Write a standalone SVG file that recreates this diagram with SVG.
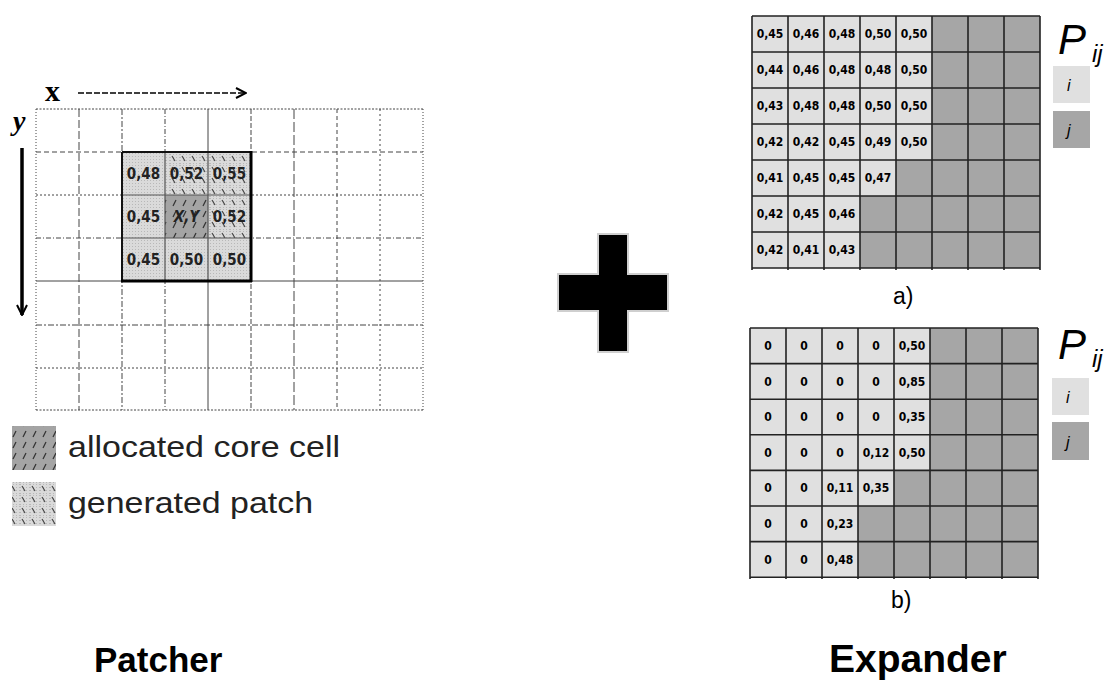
<svg xmlns="http://www.w3.org/2000/svg" width="1117" height="680" viewBox="0 0 1117 680">
<defs>
  <pattern id="stip" patternUnits="userSpaceOnUse" width="3" height="3">
    <rect width="3" height="3" fill="#dadada"/>
    <rect x="0" y="0" width="1" height="1" fill="#b8b8b8"/>
  </pattern>
  <pattern id="hatchB" patternUnits="userSpaceOnUse" width="10" height="11">
    <rect width="10" height="11" fill="url(#stip)"/>
    <line x1="2" y1="2" x2="5" y2="7" stroke="#444" stroke-width="1.2"/>
  </pattern>
  <pattern id="hatchF" patternUnits="userSpaceOnUse" width="10" height="11">
    <rect width="10" height="11" fill="#a4a4a4"/>
    <line x1="6" y1="2" x2="3" y2="8" stroke="#333" stroke-width="1.3"/>
  </pattern>
  <marker id="chev" viewBox="0 0 12 12" refX="11" refY="6" markerWidth="12" markerHeight="12" markerUnits="userSpaceOnUse" orient="auto">
    <path d="M1,1 L11,6 L1,11" fill="none" stroke="#000" stroke-width="2"/>
  </marker>
  <style>
    .g{fill:none;stroke:#444;stroke-width:1}
    .pv{font-family:"DejaVu Sans Condensed","Liberation Sans Narrow",sans-serif;font-size:15px;font-weight:bold;fill:#222;text-anchor:middle}
    .tv{font-family:"DejaVu Sans Condensed","Liberation Sans Narrow",sans-serif;font-size:12px;font-weight:bold;fill:#000;text-anchor:middle}
    .tl{fill:#000;stroke:#222;stroke-width:1.6}
    .lt{fill:#e0e0e0}
    .dk{fill:#a6a6a6}
    .leg{font-family:"Liberation Sans",Arial,sans-serif;font-size:29px;fill:#222}
    .ttl{font-family:"Liberation Sans",Arial,sans-serif;font-weight:bold;fill:#000}
    .lab{font-family:"Liberation Sans",Arial,sans-serif;font-size:23px;fill:#000}
    .P{font-family:"Liberation Sans",Arial,sans-serif;font-style:italic;fill:#000}
  </style>
</defs>

<g id="patcher-grid">
  <rect x="36" y="109" width="387" height="301" fill="#fff"/>
  <line class="g" x1="36" y1="109" x2="36" y2="410" stroke-dasharray="1,2" stroke="#777"/>
  <line class="g" x1="79" y1="109" x2="79" y2="410" stroke-dasharray="8,3"/>
  <line class="g" x1="122" y1="109" x2="122" y2="410" stroke-dasharray="6,2,2,2"/>
  <line class="g" x1="165" y1="109" x2="165" y2="410" stroke-dasharray="5,2,1,2"/>
  <line class="g" x1="208" y1="109" x2="208" y2="410" stroke="#555"/>
  <line class="g" x1="251" y1="109" x2="251" y2="410" stroke-dasharray="5,2" stroke-width="1.5"/>
  <line class="g" x1="294" y1="109" x2="294" y2="410" stroke-dasharray="10,3" stroke-width="1.5"/>
  <line class="g" x1="337" y1="109" x2="337" y2="410" stroke-dasharray="4,3"/>
  <line class="g" x1="380" y1="109" x2="380" y2="410" stroke-dasharray="2,3"/>
  <line class="g" x1="423" y1="109" x2="423" y2="410" stroke-dasharray="1,2"/>
  <line class="g" x1="36" y1="109" x2="423" y2="109" stroke-dasharray="2,1.5" stroke-width="1.3"/>
  <line class="g" x1="36" y1="152" x2="423" y2="152" stroke-dasharray="5,3"/>
  <line class="g" x1="36" y1="195" x2="423" y2="195" stroke-dasharray="2,2" stroke-width="1.6" stroke="#111"/>
  <line class="g" x1="36" y1="238" x2="423" y2="238" stroke-dasharray="5,2,1,2" stroke="#777"/>
  <line class="g" x1="36" y1="281" x2="423" y2="281" stroke="#333"/>
  <line class="g" x1="36" y1="325" x2="423" y2="325" stroke-dasharray="6,2,2,2" stroke-width="1.3"/>
  <line class="g" x1="36" y1="368" x2="423" y2="368" stroke-dasharray="2,2" stroke-width="1.6" stroke="#111"/>
  <line class="g" x1="36" y1="410" x2="423" y2="410" stroke-dasharray="2,1.5"/>
</g>

<g id="patch">
  <rect x="122" y="152" width="43" height="43" fill="url(#stip)"/>
  <rect x="165" y="152" width="43" height="43" fill="url(#hatchB)"/>
  <rect x="208" y="152" width="43" height="43" fill="url(#hatchB)"/>
  <rect x="122" y="195" width="43" height="43" fill="url(#stip)"/>
  <rect x="165" y="195" width="43" height="43" fill="url(#hatchF)"/>
  <rect x="208" y="195" width="43" height="43" fill="url(#hatchB)"/>
  <rect x="122" y="238" width="43" height="43" fill="url(#stip)"/>
  <rect x="165" y="238" width="43" height="43" fill="url(#stip)"/>
  <rect x="208" y="238" width="43" height="43" fill="url(#stip)"/>
  <path d="M165,152V281M208,152V281M122,195H251M122,238H251" fill="none" stroke="#555" stroke-width="1.2"/>
  <path d="M122,152H251" stroke="#111" stroke-width="2" fill="none"/>
  <path d="M122,152V281" stroke="#111" stroke-width="2" fill="none"/>
  <path d="M251,151V282M121,281H252" stroke="#000" stroke-width="3" fill="none"/>
  <text class="pv" x="143.5" y="179">0,48</text>
  <text class="pv" x="186.5" y="179">0,52</text>
  <text class="pv" x="229.5" y="179">0,55</text>
  <text class="pv" x="143.5" y="222">0,45</text>
  <text class="pv" x="186.5" y="222" font-style="italic">X,Y</text>
  <text class="pv" x="229.5" y="222">0,52</text>
  <text class="pv" x="143.5" y="265">0,45</text>
  <text class="pv" x="186.5" y="265">0,50</text>
  <text class="pv" x="229.5" y="265">0,50</text>
</g>

<g id="axes">
  <text x="45" y="101" font-family="Liberation Serif,serif" font-weight="bold" font-size="30" fill="#000">x</text>
  <text x="13" y="130" font-family="Liberation Serif,serif" font-weight="bold" font-style="italic" font-size="28" fill="#000">y</text>
</g>

<g id="connectors">
  <line x1="78" y1="93" x2="246" y2="93" stroke="#000" stroke-width="1.5" stroke-dasharray="6,2" marker-end="url(#chev)"/>
  <line x1="22" y1="148" x2="22" y2="315" stroke="#000" stroke-width="3.5" marker-end="url(#chev)"/>
</g>

<g id="legend-left">
  <rect x="12" y="426" width="44" height="44" fill="url(#hatchF)"/>
  <text class="leg" x="68" y="457" textLength="272" lengthAdjust="spacingAndGlyphs">allocated core cell</text>
  <rect x="12" y="482" width="44" height="44" fill="url(#hatchB)"/>
  <text class="leg" x="68" y="513" textLength="245" lengthAdjust="spacingAndGlyphs">generated patch</text>
</g>

<g id="plus">
  <path d="M598,234H628V274H668V311H628V352H598V311H558V274H598Z" fill="#000" stroke="#cfcfcf" stroke-width="2"/>
</g>

<g id="table-a">
  <rect class="dk" x="752" y="16" width="288" height="252"/>
  <rect class="lt" x="752" y="16" width="180" height="144"/>
  <rect class="lt" x="752" y="160" width="144" height="36"/>
  <rect class="lt" x="752" y="196" width="108" height="72"/>
  <path class="tl" d="M752,16V270M788,16V270M824,16V270M860,16V270M896,16V270M932,16V270M968,16V270M1004,16V270M1040,16V270M752,16H1040M752,52H1040M752,88H1040M752,124H1040M752,160H1040M752,196H1040M752,232H1040M752,268H1040"/>
  <g>
    <text class="tv" x="770" y="38">0,45</text><text class="tv" x="806" y="38">0,46</text><text class="tv" x="842" y="38">0,48</text><text class="tv" x="878" y="38">0,50</text><text class="tv" x="914" y="38">0,50</text>
    <text class="tv" x="770" y="74">0,44</text><text class="tv" x="806" y="74">0,46</text><text class="tv" x="842" y="74">0,48</text><text class="tv" x="878" y="74">0,48</text><text class="tv" x="914" y="74">0,50</text>
    <text class="tv" x="770" y="110">0,43</text><text class="tv" x="806" y="110">0,48</text><text class="tv" x="842" y="110">0,48</text><text class="tv" x="878" y="110">0,50</text><text class="tv" x="914" y="110">0,50</text>
    <text class="tv" x="770" y="146">0,42</text><text class="tv" x="806" y="146">0,42</text><text class="tv" x="842" y="146">0,45</text><text class="tv" x="878" y="146">0,49</text><text class="tv" x="914" y="146">0,50</text>
    <text class="tv" x="770" y="182">0,41</text><text class="tv" x="806" y="182">0,45</text><text class="tv" x="842" y="182">0,45</text><text class="tv" x="878" y="182">0,47</text>
    <text class="tv" x="770" y="218">0,42</text><text class="tv" x="806" y="218">0,45</text><text class="tv" x="842" y="218">0,46</text>
    <text class="tv" x="770" y="254">0,42</text><text class="tv" x="806" y="254">0,41</text><text class="tv" x="842" y="254">0,43</text>
  </g>
  <text class="lab" x="893" y="304">a)</text>
</g>

<g id="legend-a">
  <text class="P" x="1058" y="54" font-size="42">P</text>
  <text class="P" x="1092" y="62" font-size="24">ij</text>
  <rect class="lt" x="1053" y="66" width="37" height="37"/>
  <text class="P" x="1067" y="91" font-size="16" fill="#222">i</text>
  <rect class="dk" x="1053" y="111" width="37" height="37"/>
  <text class="P" x="1067" y="136" font-size="16" fill="#222">j</text>
</g>

<g id="table-b">
  <rect class="dk" x="750" y="328" width="288" height="249.2"/>
  <rect class="lt" x="750" y="328" width="180" height="142.4"/>
  <rect class="lt" x="750" y="470.4" width="144" height="35.6"/>
  <rect class="lt" x="750" y="506" width="108" height="71.2"/>
  <path class="tl" d="M750,328V579M786,328V579M822,328V579M858,328V579M894,328V579M930,328V579M966,328V579M1002,328V579M1038,328V579M750,328H1038M750,363.6H1038M750,399.2H1038M750,434.8H1038M750,470.4H1038M750,506H1038M750,541.6H1038M750,577.2H1038"/>
  <g>
    <text class="tv" x="768" y="350">0</text><text class="tv" x="804" y="350">0</text><text class="tv" x="840" y="350">0</text><text class="tv" x="876" y="350">0</text><text class="tv" x="912" y="350">0,50</text>
    <text class="tv" x="768" y="385.5">0</text><text class="tv" x="804" y="385.5">0</text><text class="tv" x="840" y="385.5">0</text><text class="tv" x="876" y="385.5">0</text><text class="tv" x="912" y="385.5">0,85</text>
    <text class="tv" x="768" y="421">0</text><text class="tv" x="804" y="421">0</text><text class="tv" x="840" y="421">0</text><text class="tv" x="876" y="421">0</text><text class="tv" x="912" y="421">0,35</text>
    <text class="tv" x="768" y="456.5">0</text><text class="tv" x="804" y="456.5">0</text><text class="tv" x="840" y="456.5">0</text><text class="tv" x="876" y="456.5">0,12</text><text class="tv" x="912" y="456.5">0,50</text>
    <text class="tv" x="768" y="492">0</text><text class="tv" x="804" y="492">0</text><text class="tv" x="840" y="492">0,11</text><text class="tv" x="876" y="492">0,35</text>
    <text class="tv" x="768" y="528">0</text><text class="tv" x="804" y="528">0</text><text class="tv" x="840" y="528">0,23</text>
    <text class="tv" x="768" y="563.5">0</text><text class="tv" x="804" y="563.5">0</text><text class="tv" x="840" y="563.5">0,48</text>
  </g>
  <text class="lab" x="891" y="608">b)</text>
</g>

<g id="legend-b">
  <text class="P" x="1058" y="359" font-size="42">P</text>
  <text class="P" x="1092" y="367" font-size="24">ij</text>
  <rect class="lt" x="1052" y="378" width="37" height="37"/>
  <text class="P" x="1066" y="403" font-size="16" fill="#222">i</text>
  <rect class="dk" x="1052" y="422" width="37" height="38"/>
  <text class="P" x="1066" y="448" font-size="16" fill="#222">j</text>
</g>

<g id="titles">
  <text class="ttl" x="94" y="672" font-size="35">Patcher</text>
  <text class="ttl" x="829" y="672" font-size="39">Expander</text>
</g>
</svg>
